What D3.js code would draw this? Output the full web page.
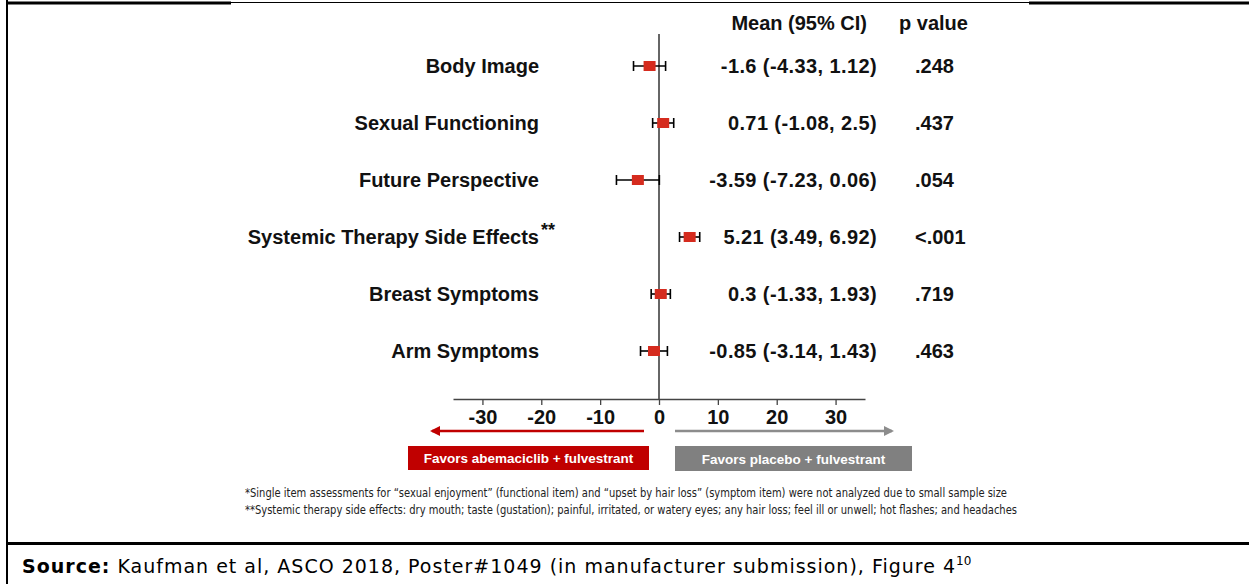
<!DOCTYPE html>
<html>
<head>
<meta charset="utf-8">
<script src="https://cdn.jsdelivr.net/npm/d3@7"></script>
<style>
  body { margin: 0; background: #fff; }
  svg { display: block; }
</style>
</head>
<body>
<div id="chart"></div>
<script>
// forest plot data
var outcomes = ["Body Image", "Sexual Functioning", "Future Perspective",
    "Systemic Therapy Side Effects", "Breast Symptoms", "Arm Symptoms"];
var means = [-1.6, 0.71, -3.59, 5.21, 0.3, -0.85];
var lower = [-4.33, -1.08, -7.23, 3.49, -1.33, -3.14];
var upper = [1.12, 2.5, 0.06, 6.92, 1.93, 1.43];
var pValues = [".248", ".437", ".054", "<.001", ".719", ".463"];
var ciLabels = ["-1.6 (-4.33, 1.12)", "0.71 (-1.08, 2.5)", "-3.59 (-7.23, 0.06)",
    "5.21 (3.49, 6.92)", "0.3 (-1.33, 1.93)", "-0.85 (-3.14, 1.43)"];
var tickValues = [-30, -20, -10, 0, 10, 20, 30];

var width = 1249;
var height = 584;
var chartFont = "'Liberation Sans', Arial, sans-serif";

var svg = d3.select('#chart')
    .append('svg')
    .attr('width', width)
    .attr('height', height);

// frame
svg.append('line').attr('x1', 7).attr('x2', 7).attr('y1', 0).attr('y2', height)
    .attr('stroke', '#000').attr('stroke-width', 2);
svg.append('line').attr('x1', 6).attr('x2', 231).attr('y1', 3).attr('y2', 3)
    .attr('stroke', '#000').attr('stroke-width', 3);
svg.append('line').attr('x1', 231).attr('x2', 1029).attr('y1', 2.5).attr('y2', 2.5)
    .attr('stroke', '#000').attr('stroke-width', 1);
svg.append('line').attr('x1', 1029).attr('x2', width).attr('y1', 3).attr('y2', 3)
    .attr('stroke', '#000').attr('stroke-width', 3);
svg.append('line').attr('x1', 6).attr('x2', width).attr('y1', 543.5).attr('y2', 543.5)
    .attr('stroke', '#000').attr('stroke-width', 3);

var x = d3.scaleLinear()
    .domain([-35, 35])
    .range([453, 865]);

var y = d3.scalePoint()
    .domain(outcomes)
    .range([66, 351]);

var axisY = 399;

// zero line
svg.append('line')
    .attr('x1', x(0)).attr('x2', x(0))
    .attr('y1', 34).attr('y2', axisY)
    .attr('stroke', '#333').attr('stroke-width', 1.5);

// x axis, plain hyphen for negatives like the original
var axis = svg.append('g')
    .attr('transform', 'translate(0,' + axisY + ')')
    .call(d3.axisBottom(x)
        .tickValues(tickValues)
        .tickFormat(function (d) { return String(d); })
        .tickSize(6).tickPadding(5).tickSizeOuter(0));
axis.select('.domain').attr('stroke', '#444').attr('stroke-width', 1.5);
axis.selectAll('.tick line').attr('stroke', '#444').attr('stroke-width', 1.3);
axis.selectAll('.tick text')
    .attr('font-family', chartFont)
    .attr('font-weight', 'bold')
    .attr('font-size', '20px')
    .attr('fill', '#111');

// headers
svg.append('text')
    .attr('x', 867).attr('y', 30)
    .attr('text-anchor', 'end')
    .attr('font-family', chartFont).attr('font-weight', 'bold').attr('font-size', '20px')
    .attr('fill', '#111')
    .text('Mean (95% CI)');
svg.append('text')
    .attr('x', 899).attr('y', 30)
    .attr('font-family', chartFont).attr('font-weight', 'bold').attr('font-size', '20px')
    .attr('fill', '#111')
    .text('p value');

var rows = svg.selectAll('.row')
    .data(outcomes)
    .enter()
    .append('g')
    .attr('class', 'row')
    .attr('transform', function (d) {
        return 'translate(0,' + y(d) + ')';
    });

// outcome labels
rows.append('text')
    .attr('x', 539)
    .attr('dy', '0.35em')
    .attr('text-anchor', 'end')
    .attr('font-family', chartFont).attr('font-weight', 'bold').attr('font-size', '20px')
    .attr('fill', '#111')
    .text(function (d) { return d; });

// footnote stars for systemic therapy
svg.append('text')
    .attr('x', 541)
    .attr('y', y(outcomes[3]) - 1)
    .attr('font-family', chartFont).attr('font-weight', 'bold').attr('font-size', '18px')
    .attr('fill', '#111')
    .text('**');

// error bars
rows.append('line')
    .attr('x1', function (d, i) { return x(lower[i]); })
    .attr('x2', function (d, i) { return x(upper[i]); })
    .attr('stroke', '#000').attr('stroke-width', 1.6);
rows.append('line')
    .attr('x1', function (d, i) { return x(lower[i]); })
    .attr('x2', function (d, i) { return x(lower[i]); })
    .attr('y1', -5).attr('y2', 5)
    .attr('stroke', '#000').attr('stroke-width', 1.6);
rows.append('line')
    .attr('x1', function (d, i) { return x(upper[i]); })
    .attr('x2', function (d, i) { return x(upper[i]); })
    .attr('y1', -5).attr('y2', 5)
    .attr('stroke', '#000').attr('stroke-width', 1.6);

// mean markers
rows.append('rect')
    .attr('x', function (d, i) { return x(means[i]) - 6; })
    .attr('y', -5)
    .attr('width', 12)
    .attr('height', 10)
    .attr('fill', '#d52b1e');

// CI text and p values
rows.append('text')
    .attr('x', 877)
    .attr('dy', '0.35em')
    .attr('text-anchor', 'end')
    .attr('font-family', chartFont).attr('font-weight', 'bold').attr('font-size', '20px')
    .attr('letter-spacing', '0.4px')
    .attr('fill', '#111')
    .text(function (d, i) { return ciLabels[i]; });
rows.append('text')
    .attr('x', 915)
    .attr('dy', '0.35em')
    .attr('font-family', chartFont).attr('font-weight', 'bold').attr('font-size', '20px')
    .attr('fill', '#111')
    .text(function (d, i) { return pValues[i]; });

// direction arrows
var defs = svg.append('defs');
function marker(id, color) {
    defs.append('marker')
        .attr('id', id)
        .attr('viewBox', '0 0 10 10')
        .attr('refX', 8).attr('refY', 5)
        .attr('markerWidth', 4).attr('markerHeight', 4)
        .attr('orient', 'auto')
        .append('path')
        .attr('d', 'M0,0 L10,5 L0,10 z')
        .attr('fill', color);
}
marker('arrowRed', '#c00000');
marker('arrowGrey', '#8c8c8c');

svg.append('line')
    .attr('x1', 644).attr('x2', 432).attr('y1', 431).attr('y2', 431)
    .attr('stroke', '#c00000').attr('stroke-width', 2.5)
    .attr('marker-end', 'url(#arrowRed)');
svg.append('line')
    .attr('x1', 675).attr('x2', 892).attr('y1', 431).attr('y2', 431)
    .attr('stroke', '#8c8c8c').attr('stroke-width', 2.5)
    .attr('marker-end', 'url(#arrowGrey)');

// favours boxes
svg.append('rect').attr('x', 408).attr('y', 446).attr('width', 241).attr('height', 24)
    .attr('fill', '#c00000');
svg.append('text').attr('x', 528.5).attr('y', 458).attr('dy', '0.35em')
    .attr('text-anchor', 'middle')
    .attr('font-family', chartFont).attr('font-weight', 'bold').attr('font-size', '13.5px')
    .attr('fill', '#fff')
    .text('Favors abemaciclib + fulvestrant');
svg.append('rect').attr('x', 675).attr('y', 446).attr('width', 237).attr('height', 25)
    .attr('fill', '#808080');
svg.append('text').attr('x', 793.5).attr('y', 459).attr('dy', '0.35em')
    .attr('text-anchor', 'middle')
    .attr('font-family', chartFont).attr('font-weight', 'bold').attr('font-size', '13.5px')
    .attr('fill', '#fff')
    .text('Favors placebo + fulvestrant');

// footnotes
var narrowFont = "'Liberation Sans Narrow', 'Arial Narrow', 'DejaVu Sans Condensed', sans-serif";
svg.append('text').attr('x', 245).attr('y', 497)
    .attr('font-family', narrowFont).attr('font-size', '12px').attr('fill', '#222')
    .attr('textLength', 762).attr('lengthAdjust', 'spacingAndGlyphs')
    .text('*Single item assessments for \u201csexual enjoyment\u201d (functional item) and \u201cupset by hair loss\u201d (symptom item) were not analyzed due to small sample size');
svg.append('text').attr('x', 245).attr('y', 514)
    .attr('font-family', narrowFont).attr('font-size', '12px').attr('fill', '#222')
    .attr('textLength', 772).attr('lengthAdjust', 'spacingAndGlyphs')
    .text('**Systemic therapy side effects: dry mouth; taste (gustation); painful, irritated, or watery eyes; any hair loss; feel ill or unwell; hot flashes; and headaches');

// source line
var source = svg.append('text').attr('x', 22).attr('y', 573)
    .attr('font-family', "'DejaVu Sans', Verdana, sans-serif").attr('font-size', '19px')
    .attr('letter-spacing', '1px')
    .attr('fill', '#000');
source.append('tspan').attr('font-weight', 'bold').text('Source:');
source.append('tspan').text(' Kaufman et al, ASCO 2018, Poster#1049 (in manufacturer submission), Figure 4');
source.append('tspan').attr('font-size', '12px').attr('letter-spacing', '0px').attr('dy', -8).text('10');
</script>
</body>
</html>
